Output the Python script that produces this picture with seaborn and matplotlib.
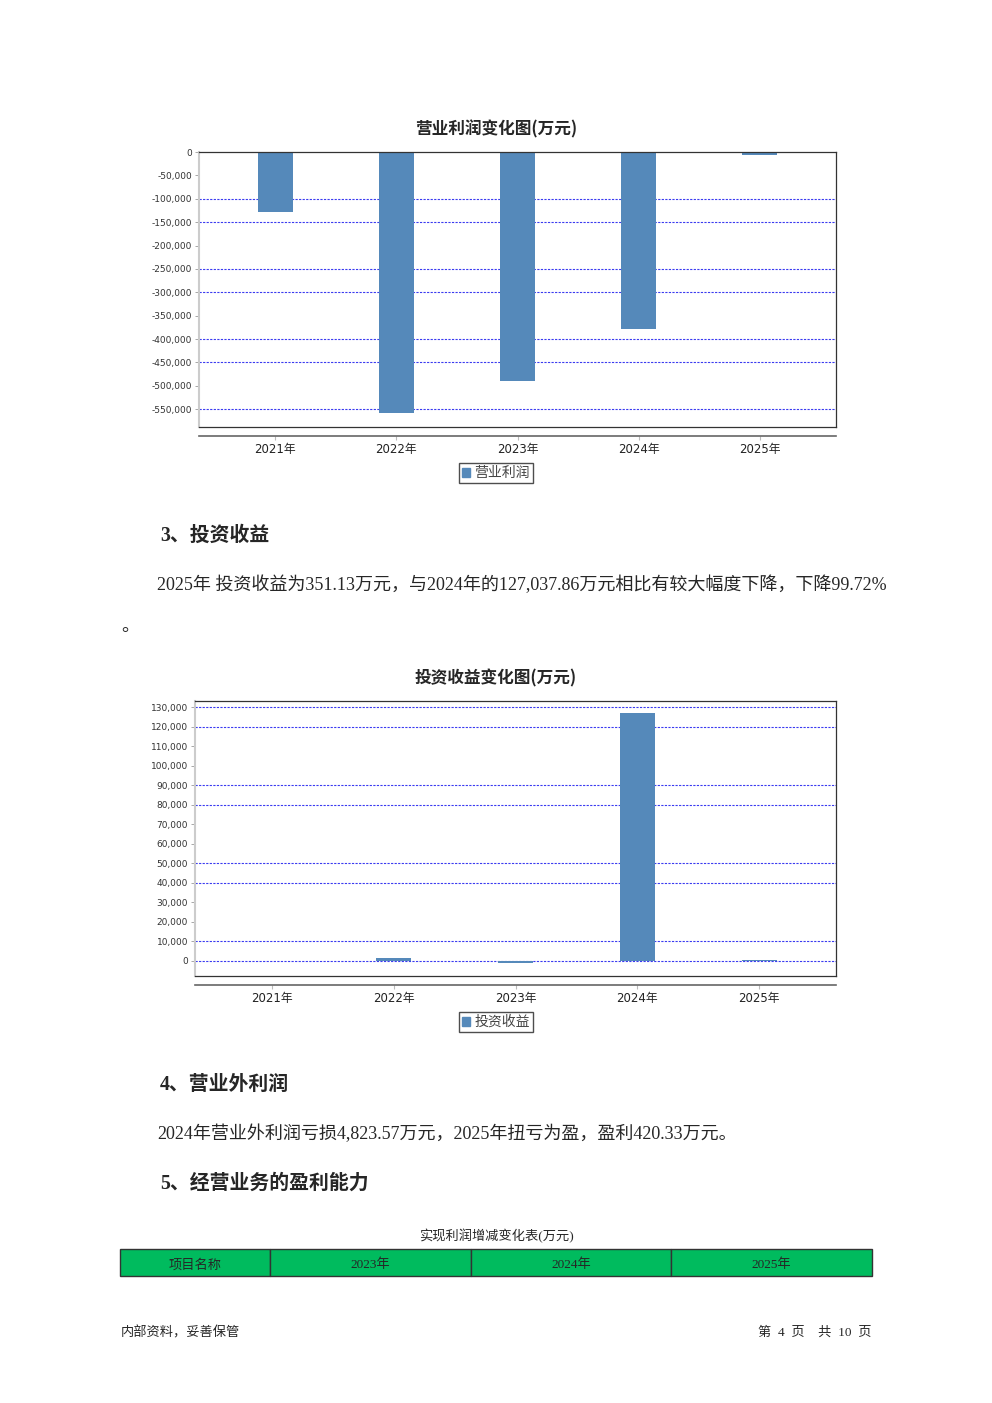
import matplotlib.pyplot as plt
import seaborn as sns
from matplotlib.patches import Patch, Rectangle
from matplotlib.ticker import FuncFormatter

sns.set_style('white')
plt.rcParams['font.family'] = ['Liberation Serif', 'Noto Sans CJK SC']

# data
years = ['2021年', '2022年', '2023年', '2024年', '2025年']
op_profit = [-128000, -557000, -489000, -378000, -6400]
invest_income = [100, 1500, -900, 127037.86, 351.13]

op_ticks = [0, -50000, -100000, -150000, -200000, -250000, -300000,
            -350000, -400000, -450000, -500000, -550000]
op_grid = [-100000, -150000, -250000, -300000, -400000, -450000, -550000]
inv_ticks = list(range(0, 130001, 10000))
inv_grid = [130000, 120000, 90000, 80000, 50000, 40000, 10000, 0]

table_cols = ['项目名称', '2023年', '2024年', '2025年']

W, H = 992, 1403
BAR = '#5589ba'
GRID = '#3b3bf0'
SANS = ['DejaVu Sans', 'Noto Sans CJK SC']
CJK = ['Liberation Serif', 'Noto Sans CJK SC']

fig = plt.figure(figsize=(W / 100, H / 100), dpi=100)


def box(x0, y0, x1, y1):
    return [x0 / W, 1 - y1 / H, (x1 - x0) / W, (y1 - y0) / H]


def bar_chart(rect, axis_y, vals, ylim, ticks, grid, title, title_y, label, leg_y):
    ax = fig.add_axes(box(*rect))
    sns.barplot(x=years, y=vals, ax=ax, color=BAR, width=0.29, saturation=1,
                linewidth=0)
    ax.set_xlim(-0.63, 4.63)
    ax.set_ylim(*ylim)
    ax.set_yticks(ticks)
    ax.yaxis.set_major_formatter(FuncFormatter(lambda v, p: f'{v:,.0f}'))
    ax.tick_params(axis='y', labelsize=6.5, labelcolor='#333333', length=3,
                   width=0.6, color='#999999', pad=2, left=True)
    for t in ax.get_yticklabels():
        t.set_family(SANS)
    ax.set_xticks([])
    ax.set_xlabel('')
    for g in grid:
        ax.axhline(g, color=GRID, lw=0.8, ls=(0, (2, 1.2)), zorder=0)
    for s in ax.spines.values():
        s.set_visible(True)
        s.set_color('#333333')
        s.set_linewidth(0.9)
    ax.spines['left'].set_color('#cccccc')
    ax.spines['left'].set_linewidth(1.5)

    # separate category axis below the plot frame
    xa = fig.add_axes([rect[0] / W, 1 - axis_y / H, (rect[2] - rect[0]) / W, 0.0001])
    xa.set_xlim(-0.63, 4.63)
    xa.set_yticks([])
    xa.set_xticks(range(len(years)))
    xa.set_xticklabels(years, family=SANS, fontsize=8.5, color='#222222')
    xa.tick_params(axis='x', length=3, color='#bbbbbb', pad=2, bottom=True)
    for k in ['top', 'left', 'right']:
        xa.spines[k].set_visible(False)
    xa.spines['bottom'].set_color('#666666')
    xa.spines['bottom'].set_linewidth(1.2)

    fig.text(496 / W, 1 - title_y / H, title, ha='center', va='center',
             fontsize=12, fontweight='bold', family=['Noto Sans CJK SC'])
    leg = fig.legend(handles=[Patch(color=BAR, label=label)], loc='center',
                     bbox_to_anchor=(496 / W, 1 - leg_y / H), fancybox=False,
                     edgecolor='#222222', handlelength=0.6, handleheight=0.6,
                     handletextpad=0.3, borderpad=0.25, borderaxespad=0,
                     prop={'family': 'Noto Sans CJK SC', 'size': 10})
    leg.get_frame().set_linewidth(1.0)
    for t in leg.get_texts():
        t.set_color('#444444')
    return ax


bar_chart((199, 152, 836, 427), 436, op_profit, (-588000, 0), op_ticks, op_grid,
          '营业利润变化图(万元)', 129, '营业利润', 473)
bar_chart((195, 701, 836, 976), 985, invest_income, (-7700, 133100), inv_ticks,
          inv_grid, '投资收益变化图(万元)', 678, '投资收益', 1022)

# document text
def txt(x, y, s, size, bold=False, ha='left', family=CJK):
    fig.text(x / W, 1 - y / H, s, ha=ha, va='center', fontsize=size,
             fontweight='bold' if bold else 'normal', family=family)


txt(160, 536, '3、投资收益', 14.3, bold=True)
txt(157, 585, '2025年 投资收益为351.13万元，与2024年的127,037.86万元相比有较大幅度下降，下降99.72%', 13)
txt(121, 627, '。', 13)
txt(160, 1085, '4、营业外利润', 14.3, bold=True)
txt(157, 1134, '2024年营业外利润亏损4,823.57万元，2025年扭亏为盈，盈利420.33万元。', 13)
txt(160, 1184, '5、经营业务的盈利能力', 14.3, bold=True)
txt(496, 1236, '实现利润增减变化表(万元)', 9.5, ha='center')

# table header row
edges = [120, 270, 471, 671, 872]
for i, name in enumerate(table_cols):
    x0, x1 = edges[i], edges[i + 1]
    fig.patches.append(Rectangle((x0 / W, 1 - 1276 / H), (x1 - x0) / W, 27 / H,
                                 transform=fig.transFigure, facecolor='#00bb5e',
                                 edgecolor='#333333', lw=1.0))
    txt((x0 + x1) / 2, 1265, name, 9.5, ha='center')

txt(121, 1333, '内部资料，妥善保管', 9.5)
txt(872, 1333, '第  4  页    共  10  页', 9.5, ha='right')

fig.savefig('out.png', dpi=100)
